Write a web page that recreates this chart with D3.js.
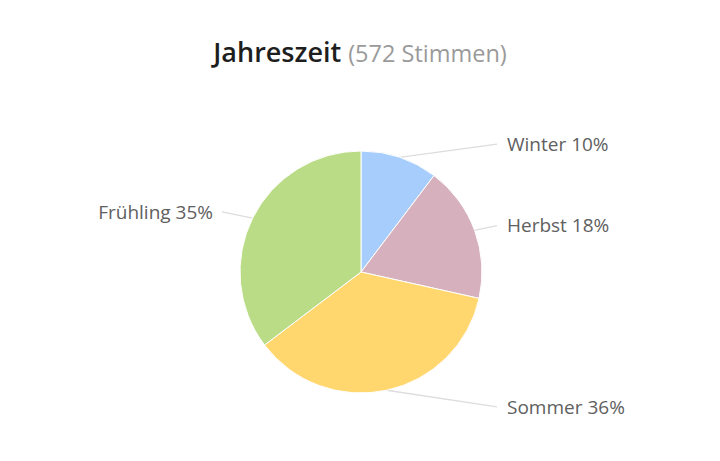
<!DOCTYPE html>
<html>
  <head>
    <meta charset="utf-8" />
    <title>Jahreszeit</title>
    <script src="https://d3js.org/d3.v7.min.js"></script>
    <style>
      body { margin: 0; background: #fff; }
      text { font-family: "Open Sans", sans-serif; }
    </style>
  </head>
  <body>
    <svg width="720" height="461"></svg>
    <script>
      var svg = d3.select("svg"),
        width = +svg.attr("width"),
        height = +svg.attr("height");

      // Stimmen je Jahreszeit (572 gesamt)
      var categories = ["Winter", "Herbst", "Sommer", "Frühling"];
      var votes = [59, 104, 207, 202];
      var colors = ["#a6cdfb", "#d7b0be", "#ffd76e", "#badc86"];

      var total = d3.sum(votes);
      var cx = 361, cy = 272, r = 121;

      // Titel
      var title = svg
        .append("text")
        .attr("x", width / 2)
        .attr("y", 62)
        .attr("text-anchor", "middle");
      title
        .append("tspan")
        .attr("font-size", 27)
        .attr("font-weight", 600)
        .attr("fill", "#1e1e1e")
        .text("Jahreszeit ");
      title
        .append("tspan")
        .attr("font-size", 23.5)
        .attr("fill", "#9a9a9a")
        .text("(" + total + " Stimmen)");

      var data = categories.map(function (c, i) {
        return { name: c, value: votes[i], color: colors[i] };
      });

      var pie = d3.pie().sort(null).value(function (d) { return d.value; });
      var arcs = pie(data);
      var arc = d3.arc().innerRadius(0).outerRadius(r);

      var g = svg.append("g").attr("transform", "translate(" + cx + "," + cy + ")");

      function mid(d) { return (d.startAngle + d.endAngle) / 2; }
      function labelY(d) {
        var c = Math.cos(mid(d));
        return -(r + 14) * c + (c < -0.9 ? 3 : 0);
      }

      // Verbindungslinien
      g.selectAll(".conn")
        .data(arcs)
        .enter()
        .append("polyline")
        .attr("fill", "none")
        .attr("stroke", "#ddd")
        .attr("stroke-width", 1.3)
        .attr("points", function (d) {
          var a = mid(d);
          var sx = r * Math.sin(a), sy = -r * Math.cos(a);
          var ex = Math.sin(a) >= 0 ? 136 : -139;
          return [[sx, sy], [ex, labelY(d)]].join(" ");
        });

      g.selectAll(".slice")
        .data(arcs)
        .enter()
        .append("path")
        .attr("d", arc)
        .attr("fill", function (d) { return d.data.color; })
        .attr("stroke", "#fff")
        .attr("stroke-width", 1);

      g.selectAll(".label")
        .data(arcs)
        .enter()
        .append("text")
        .attr("font-size", 19)
        .attr("fill", "#606060")
        .attr("dy", "0.35em")
        .attr("x", function (d) {
          return Math.sin(mid(d)) >= 0 ? 146 : -148;
        })
        .attr("y", labelY)
        .attr("text-anchor", function (d) {
          return Math.sin(mid(d)) >= 0 ? "start" : "end";
        })
        .text(function (d) {
          return d.data.name + " " + Math.round((d.value / total) * 100) + "%";
        });
    </script>
  </body>
</html>
